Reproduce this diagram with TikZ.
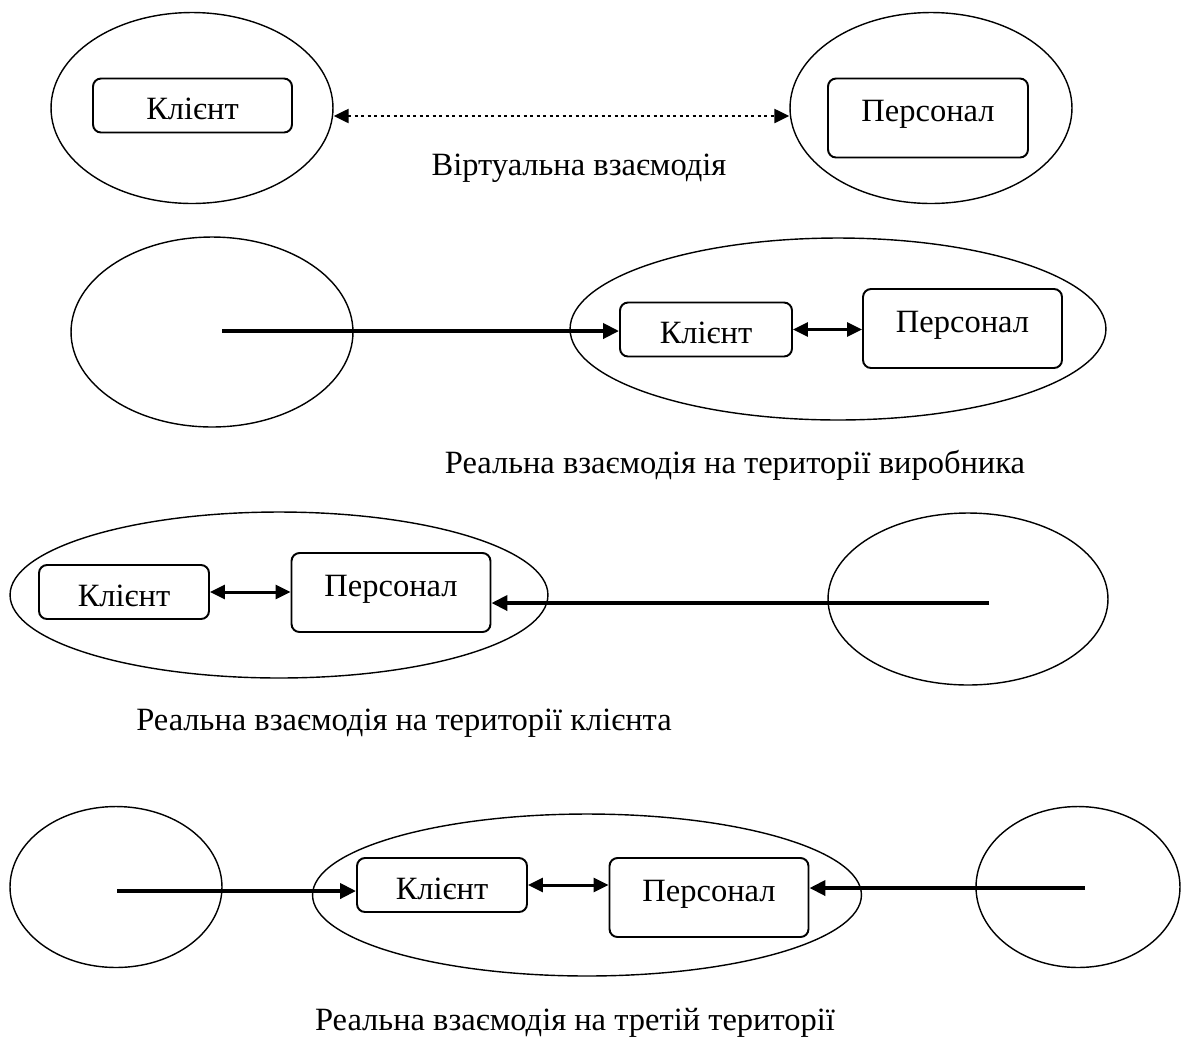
\documentclass[tikz,border=0pt]{standalone}
\usepackage{fontspec}
\setmainfont{Liberation Serif}
\usepackage{tikz}
\usetikzlibrary{arrows.meta,shapes.geometric}

\begin{document}
\begin{tikzpicture}[
    x=0.02cm, y=-0.02cm,
    every node/.style={font=\fontsize{18.5}{22}\selectfont},
    area/.style={draw, ellipse, line width=0.8pt, inner sep=0pt},
    box/.style={draw, rounded corners=0.16cm, line width=1.1pt, align=center, inner sep=0pt},
    client/.style={box, minimum width=3.4cm, minimum height=1.08cm, text height=16pt, text depth=0pt},
    staff/.style={box, minimum width=3.98cm, minimum height=1.58cm, text height=12.5pt, text depth=8pt},
    caption/.style={inner sep=0pt, anchor=base},
    arrow/.style={-{Triangle[length=0.32cm,width=0.3cm]}, line width=2.2pt},
    twoway/.style={{Triangle[length=0.3cm,width=0.28cm]}-{Triangle[length=0.3cm,width=0.28cm]}, line width=1.7pt},
    virtual/.style={twoway, dotted, line width=1.3pt}
]
    \useasboundingbox (0,0) rectangle (1187,1039);

    % Row 1
    \node[area, minimum width=5.64cm, minimum height=3.82cm] (Area1L) at (192,108) {};
    \node[area, minimum width=5.64cm, minimum height=3.82cm] (Area1R) at (931,108) {};
    \node[client, minimum width=3.98cm] (Client1) at (192.5,105.5) {Клієнт};
    \node[staff, minimum width=4cm] (Staff1) at (928,118) {Персонал};
    \node[caption] (Cap1) at (579,175) {Віртуальна взаємодія};

    % Row 2
    \node[area, minimum width=5.64cm, minimum height=3.8cm] (Area2L) at (212,332) {};
    \node[area, minimum width=10.72cm, minimum height=3.64cm] (Area2R) at (838,329) {};
    \node[client, minimum width=3.44cm] (Client2) at (706,329.5) {Клієнт};
    \node[staff] (Staff2) at (962.5,328.5) {Персонал};
    \coordinate (Start2) at (222,331);
    \node[caption] (Cap2) at (735,473) {Реальна взаємодія на території виробника};

    % Row 3
    \node[area, minimum width=10.76cm, minimum height=3.32cm] (Area3L) at (279,595) {};
    \node[area, minimum width=5.6cm, minimum height=3.44cm] (Area3R) at (968,599) {};
    \node[client] (Client3) at (124,592) {Клієнт};
    \node[staff] (Staff3) at (391,592.5) {Персонал};
    \coordinate (Start3) at (989,603);
    \node[caption] (Cap3) at (404,730) {Реальна взаємодія на території клієнта};

    % Row 4
    \node[area, minimum width=4.24cm, minimum height=3.22cm] (Area4L) at (116,887) {};
    \node[area, minimum width=10.98cm, minimum height=3.24cm] (Area4M) at (587,895) {};
    \node[area, minimum width=4.08cm, minimum height=3.22cm] (Area4R) at (1078,887) {};
    \node[client] (Client4) at (442,885) {Клієнт};
    \node[staff] (Staff4) at (709,897.5) {Персонал};
    \coordinate (Start4L) at (117,891);
    \coordinate (Start4R) at (1085,888);
    \node[caption] (Cap4) at (575,1030) {Реальна взаємодія на третій території};

    % Arrows
    \draw[virtual] ([yshift=-0.16cm]Area1L.east) -- ([yshift=-0.16cm]Area1R.west);
    \draw[arrow] (Start2) -- (Start2 -| Client2.west);
    \draw[twoway] (Client2.east) -- (Client2.east -| Staff2.west);
    \draw[twoway] (Client3.east) -- (Client3.east -| Staff3.west);
    \draw[arrow] (Start3) -- (Start3 -| Staff3.east);
    \draw[arrow] (Start4L) -- (Start4L -| Client4.west);
    \draw[twoway] (Client4.east) -- (Client4.east -| Staff4.west);
    \draw[arrow] (Start4R) -- (Start4R -| Staff4.east);
\end{tikzpicture}
\end{document}
